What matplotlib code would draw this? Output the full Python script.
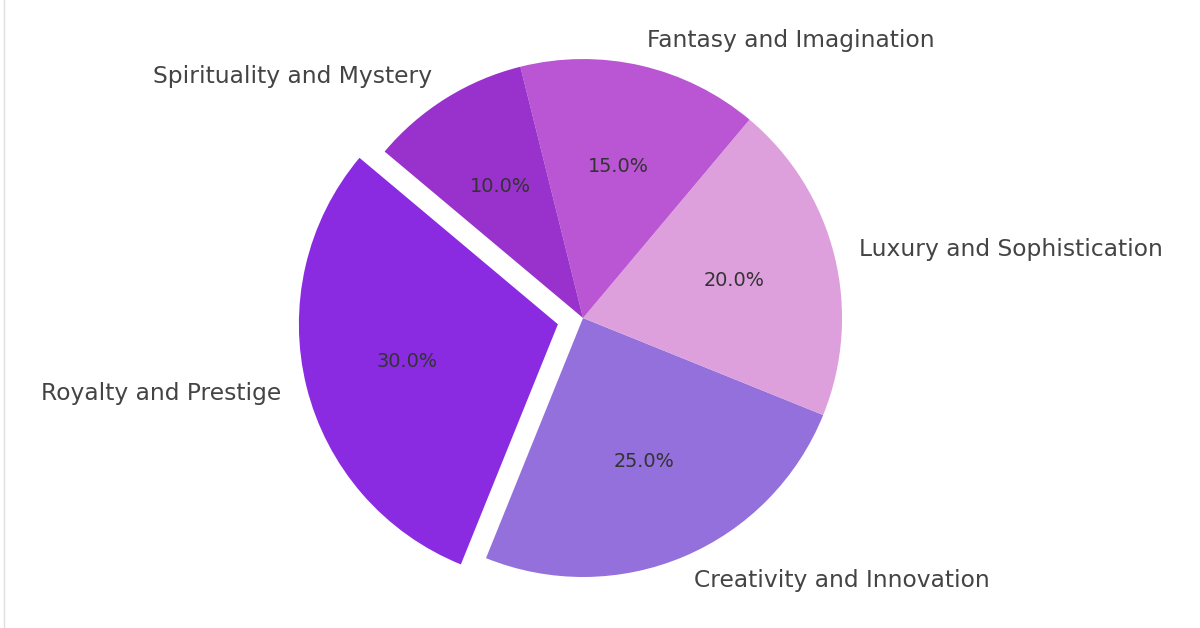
import matplotlib
matplotlib.use('Agg')
from matplotlib import pyplot as plt
from matplotlib.lines import Line2D

# Dados do gráfico
categorias = ['Royalty and Prestige', 'Creativity and Innovation',
              'Luxury and Sophistication', 'Fantasy and Imagination',
              'Spirituality and Mystery']
valores = [30, 25, 20, 15, 10]
cores = ['#8A2BE2', '#9370DB', '#DDA0DD', '#BA55D3', '#9932CC']
destaque = [0.1, 0, 0, 0, 0]

fig = plt.figure(figsize=(12, 6.28), dpi=100)
ax = fig.add_axes([0, 0, 1, 1])

wedges, textos, pcts = ax.pie(valores, labels=categorias, colors=cores,
                              explode=destaque, startangle=140,
                              autopct='%1.1f%%', labeldistance=1.1,
                              pctdistance=0.6,
                              textprops={'fontsize': 16.8, 'color': '#444444'})
for p in pcts:
    p.set_fontsize(13.9)
    p.set_color('#333333')

# Limites para posicionar o centro como na referência
ax.set_xlim(-2.251, 2.382)
ax.set_ylim(-1.197, 1.228)
ax.set_aspect('auto')
ax.axis('off')

# linha fina cinza na borda esquerda
fig.add_artist(Line2D([3.5 / 1200, 3.5 / 1200], [0, 1], color='#e0e0e0',
                      linewidth=1, transform=fig.transFigure))

fig.savefig('out.png', dpi=100, facecolor='white')
